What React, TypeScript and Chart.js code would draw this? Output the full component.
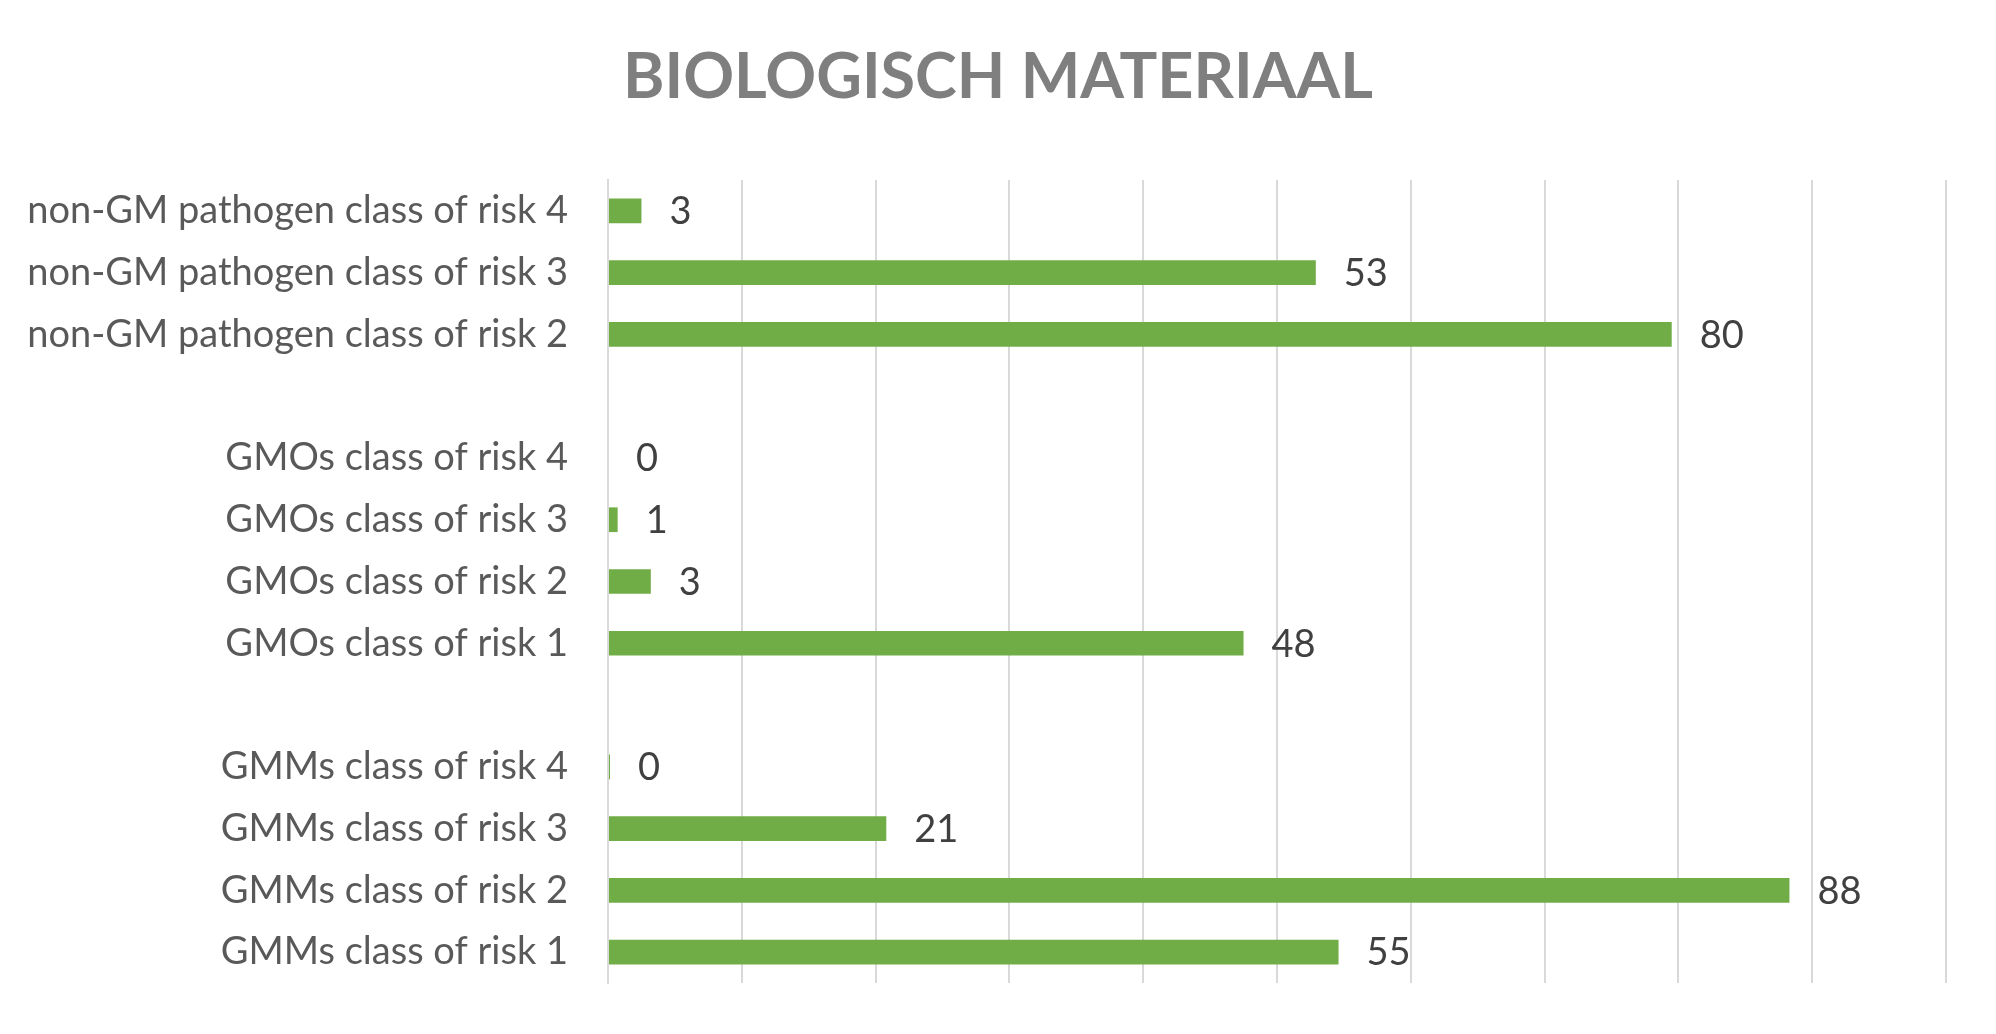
import React, { useEffect, useRef } from "react";
import { Chart, registerables } from "chart.js";

Chart.register(...registerables);

const categories: string[] = [
  "non-GM pathogen class of risk 4",
  "non-GM pathogen class of risk 3",
  "non-GM pathogen class of risk 2",
  "",
  "GMOs class of risk 4",
  "GMOs class of risk 3",
  "GMOs class of risk 2",
  "GMOs class of risk 1",
  "",
  "GMMs class of risk 4",
  "GMMs class of risk 3",
  "GMMs class of risk 2",
  "GMMs class of risk 1",
];

const values: (number | null)[] = [
  2.5, 52.9, 79.5, null, 0, 0.72, 3.2, 47.5, null, 0.15, 20.8, 88.3, 54.6,
];

const xTicks = { min: 0, max: 100, step: 10 };
const chartTitle = "BIOLOGISCH MATERIAAL";

const FONT = "Lato, 'Open Sans', sans-serif";
const LABEL_SIZE = 38;

const valueLabels = {
  id: "valueLabels",
  afterDatasetsDraw(chart: any) {
    const ctx = chart.ctx;
    const meta = chart.getDatasetMeta(0);
    const data = chart.data.datasets[0].data;
    ctx.save();
    ctx.font = `${LABEL_SIZE}px ${FONT}`;
    ctx.fillStyle = "#404040";
    ctx.textAlign = "left";
    ctx.textBaseline = "middle";
    meta.data.forEach((el: any, i: number) => {
      const v = data[i];
      if (v === null || v === undefined) return;
      ctx.fillText(String(Math.round(v)), el.x + 28, el.y + 1);
    });
    ctx.restore();
  },
};

const centeredTitle = {
  id: "centeredTitle",
  afterDraw(chart: any) {
    const ctx = chart.ctx;
    ctx.save();
    ctx.font = `bold 63px ${FONT}`;
    ctx.fillStyle = "#7F7F7F";
    ctx.textAlign = "center";
    ctx.textBaseline = "middle";
    ctx.fillText(chartTitle, chart.width / 2, 78);
    ctx.restore();
  },
};

export default function App() {
  const ref = useRef<HTMLCanvasElement | null>(null);
  useEffect(() => {
    if (!ref.current) return;
    const chart = new Chart(ref.current, {
      type: "bar",
      data: {
        labels: categories,
        datasets: [
          {
            data: values,
            backgroundColor: "#70AD47",
            borderWidth: 0,
            barPercentage: 0.4,
            categoryPercentage: 1,
          },
        ],
      },
      options: {
        indexAxis: "y",
        animation: false,
        responsive: true,
        maintainAspectRatio: false,
        layout: { padding: { left: 0, right: 50, top: 180, bottom: 51 } },
        plugins: {
          legend: { display: false },
          tooltip: { enabled: false },
          title: { display: false },
        },
        scales: {
          x: {
            min: xTicks.min,
            max: xTicks.max,
            ticks: { display: false, stepSize: xTicks.step },
            grid: { color: "#D9D9D9", lineWidth: 2, drawTicks: false },
            border: { display: false },
            afterFit: (s: any) => {
              s.height = 0;
            },
          },
          y: {
            ticks: {
              color: "#595959",
              font: { family: FONT, size: LABEL_SIZE },
              padding: 40,
              autoSkip: false,
            },
            grid: { display: false, drawTicks: false },
            border: { display: true, color: "#D9D9D9", width: 2 },
            afterFit: (s: any) => {
              s.width = 608;
              s.paddingTop = 0;
              s.paddingBottom = 0;
            },
          },
        },
      },
      plugins: [valueLabels, centeredTitle],
    });
    return () => chart.destroy();
  }, []);
  return (
    <div style={{ position: "absolute", left: 0, top: 0, width: 1996, height: 1034, background: "#fff" }}>
      <canvas ref={ref} />
    </div>
  );
}
